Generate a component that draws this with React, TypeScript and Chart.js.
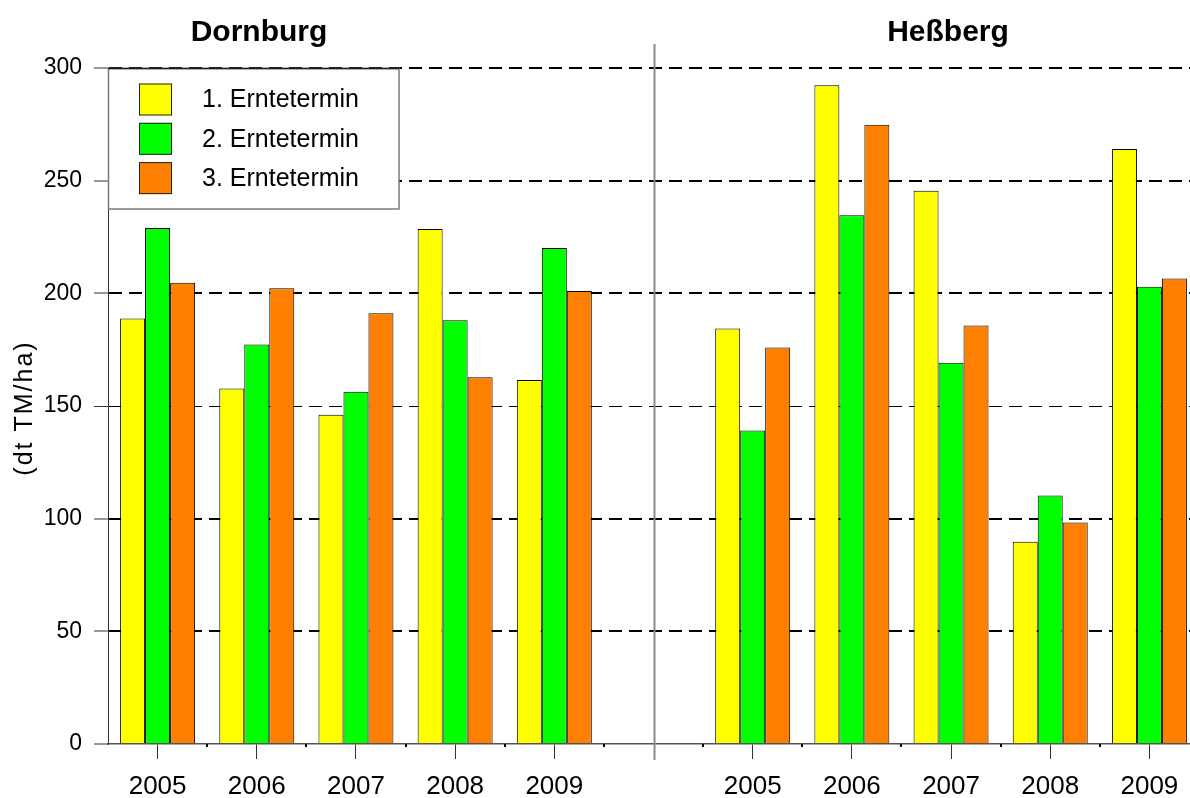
import React, { useEffect, useRef } from 'react';
import { Chart, registerables } from 'chart.js';

Chart.register(...registerables);

// ---- data ----
const categories = ['2005', '2006', '2007', '2008', '2009', '', '2005', '2006', '2007', '2008', '2009'];
const ernte1 = [188.8, 157.8, 146.1, 228.5, 161.5, null, 184.4, 292.3, 245.5, 89.8, 264.0];
const ernte2 = [229.0, 177.3, 156.3, 188.1, 220.1, null, 139.1, 234.7, 169.2, 110.3, 202.9];
const ernte3 = [204.7, 202.3, 191.2, 162.8, 201.0, null, 176.0, 274.8, 185.7, 98.3, 206.6];
const seriesLabels = ['1. Erntetermin', '2. Erntetermin', '3. Erntetermin'];
const seriesColors = ['#FFFF00', '#00FF00', '#FF8000'];
const yTicks = [0, 50, 100, 150, 200, 250, 300];
const siteTitles = ['Dornburg', 'Heßberg'];
const yAxisTitle = '(dt TM/ha)';

const FONT = '"Liberation Sans", Arial, Helvetica, sans-serif';

const decorPlugin = {
  id: 'decor',
  beforeDatasetsDraw(chart: any) {
    const ctx = chart.ctx;
    ctx.save();
    // legend box
    ctx.fillStyle = '#ffffff';
    ctx.fillRect(108, 68, 291, 141);
    ctx.strokeStyle = '#7a7a7a';
    ctx.lineWidth = 1.5;
    ctx.setLineDash([]);
    ctx.strokeRect(108.5, 68.5, 290.5, 140.5);
    ctx.strokeStyle = '#222';
    ctx.lineWidth = 1.5;
    ctx.beginPath();
    ctx.moveTo(108, 68.5);
    ctx.lineTo(399, 68.5);
    ctx.stroke();
    chart.data.datasets.forEach((ds: any, i: number) => {
      const cy = 99.5 + i * 39.3;
      ctx.fillStyle = ds.backgroundColor;
      ctx.fillRect(139, cy - 16, 33, 32);
      ctx.strokeStyle = '#222';
      ctx.lineWidth = 1;
      ctx.strokeRect(139.5, cy - 15.5, 32, 31);
      ctx.fillStyle = '#000';
      ctx.font = `25px ${FONT}`;
      ctx.textAlign = 'left';
      ctx.textBaseline = 'middle';
      ctx.fillText(ds.label, 202, cy + 1);
    });
    ctx.restore();
  },
  afterDatasetsDraw(chart: any) {
    const ctx = chart.ctx;
    const xs = chart.scales.x;
    const bottom = chart.chartArea.bottom;
    ctx.save();
    // separator line between sites
    const sx = Math.round(xs.getPixelForValue(5)) + 0.5;
    ctx.strokeStyle = '#8a8a8a';
    ctx.lineWidth = 2;
    ctx.beginPath();
    ctx.moveTo(sx, 44);
    ctx.lineTo(sx, bottom + 16);
    ctx.stroke();
    // minor ticks at category boundaries
    ctx.strokeStyle = '#000';
    ctx.lineWidth = 2;
    for (let i = 0; i < categories.length - 1; i++) {
      const mx = Math.round((xs.getPixelForValue(i) + xs.getPixelForValue(i + 1)) / 2);
      ctx.beginPath();
      ctx.moveTo(mx, bottom);
      ctx.lineTo(mx, bottom + 3);
      ctx.stroke();
    }
    // site titles
    ctx.fillStyle = '#000';
    ctx.font = `bold 30px ${FONT}`;
    ctx.textAlign = 'center';
    ctx.textBaseline = 'alphabetic';
    ctx.fillText(siteTitles[0], 259, 41);
    ctx.fillText(siteTitles[1], 948, 41);
    // y axis title
    ctx.translate(25, 408);
    ctx.rotate(-Math.PI / 2);
    ctx.font = `25px ${FONT}`;
    try { (ctx as any).letterSpacing = '2px'; } catch (e) {}
    ctx.textAlign = 'center';
    ctx.textBaseline = 'middle';
    ctx.fillText(yAxisTitle, 0, 0);
    ctx.restore();
  },
};

export default function App() {
  const ref = useRef<HTMLCanvasElement | null>(null);

  useEffect(() => {
    const canvas = ref.current;
    if (!canvas) return;
    const series = [ernte1, ernte2, ernte3];
    const chart = new Chart(canvas, {
      type: 'bar',
      data: {
        labels: categories,
        datasets: series.map((d, i) => ({
          label: seriesLabels[i],
          data: d,
          backgroundColor: seriesColors[i],
          borderColor: '#000000',
          borderWidth: 1,
          categoryPercentage: 0.756,
          barPercentage: 1,
        })),
      },
      options: {
        responsive: false,
        animation: false,
        devicePixelRatio: 1,
        layout: { padding: { top: 68, right: 10, bottom: 0, left: 0 } },
        plugins: {
          legend: { display: false },
          tooltip: { enabled: false },
          title: { display: false },
        },
        scales: {
          x: {
            grid: {
              offset: false,
              drawOnChartArea: false,
              drawTicks: true,
              tickLength: 15,
              tickWidth: 1,
              tickColor: (c: any) => (c.index === 5 ? 'rgba(0,0,0,0)' : '#333'),
            },
            border: { color: '#555', width: 1.5 },
            ticks: {
              color: '#000',
              font: { family: FONT, size: 26 },
              padding: 12,
              maxRotation: 0,
              autoSkip: false,
            },
            afterFit: (s: any) => { s.height = 54; },
          },
          y: {
            min: 0,
            max: 300,
            afterBuildTicks: (s: any) => { s.ticks = yTicks.map((v) => ({ value: v })); },
            grid: {
              color: (c: any) => (c.tick && c.tick.value === 0 ? 'rgba(0,0,0,0)' : '#000'),
              lineWidth: (c: any) => (c.tick && c.tick.value === 150 ? 1 : 2),
              tickLength: 14,
              tickWidth: 1,
              tickColor: '#333',
              tickBorderDash: [],
            },
            border: { color: '#333', width: 1, dash: [13, 7] },
            ticks: {
              color: '#000',
              font: { family: FONT, size: 23 },
              padding: 12,
            },
            afterFit: (s: any) => { s.width = 108; },
          },
        },
      },
      plugins: [decorPlugin],
    } as any);
    return () => chart.destroy();
  }, []);

  return (
    <div
      style={{
        position: 'fixed',
        left: 0,
        top: 0,
        width: 1190,
        height: 798,
        overflow: 'hidden',
        background: '#fff',
      }}
    >
      <canvas ref={ref} width={1209} height={798} style={{ display: 'block' }} />
    </div>
  );
}
